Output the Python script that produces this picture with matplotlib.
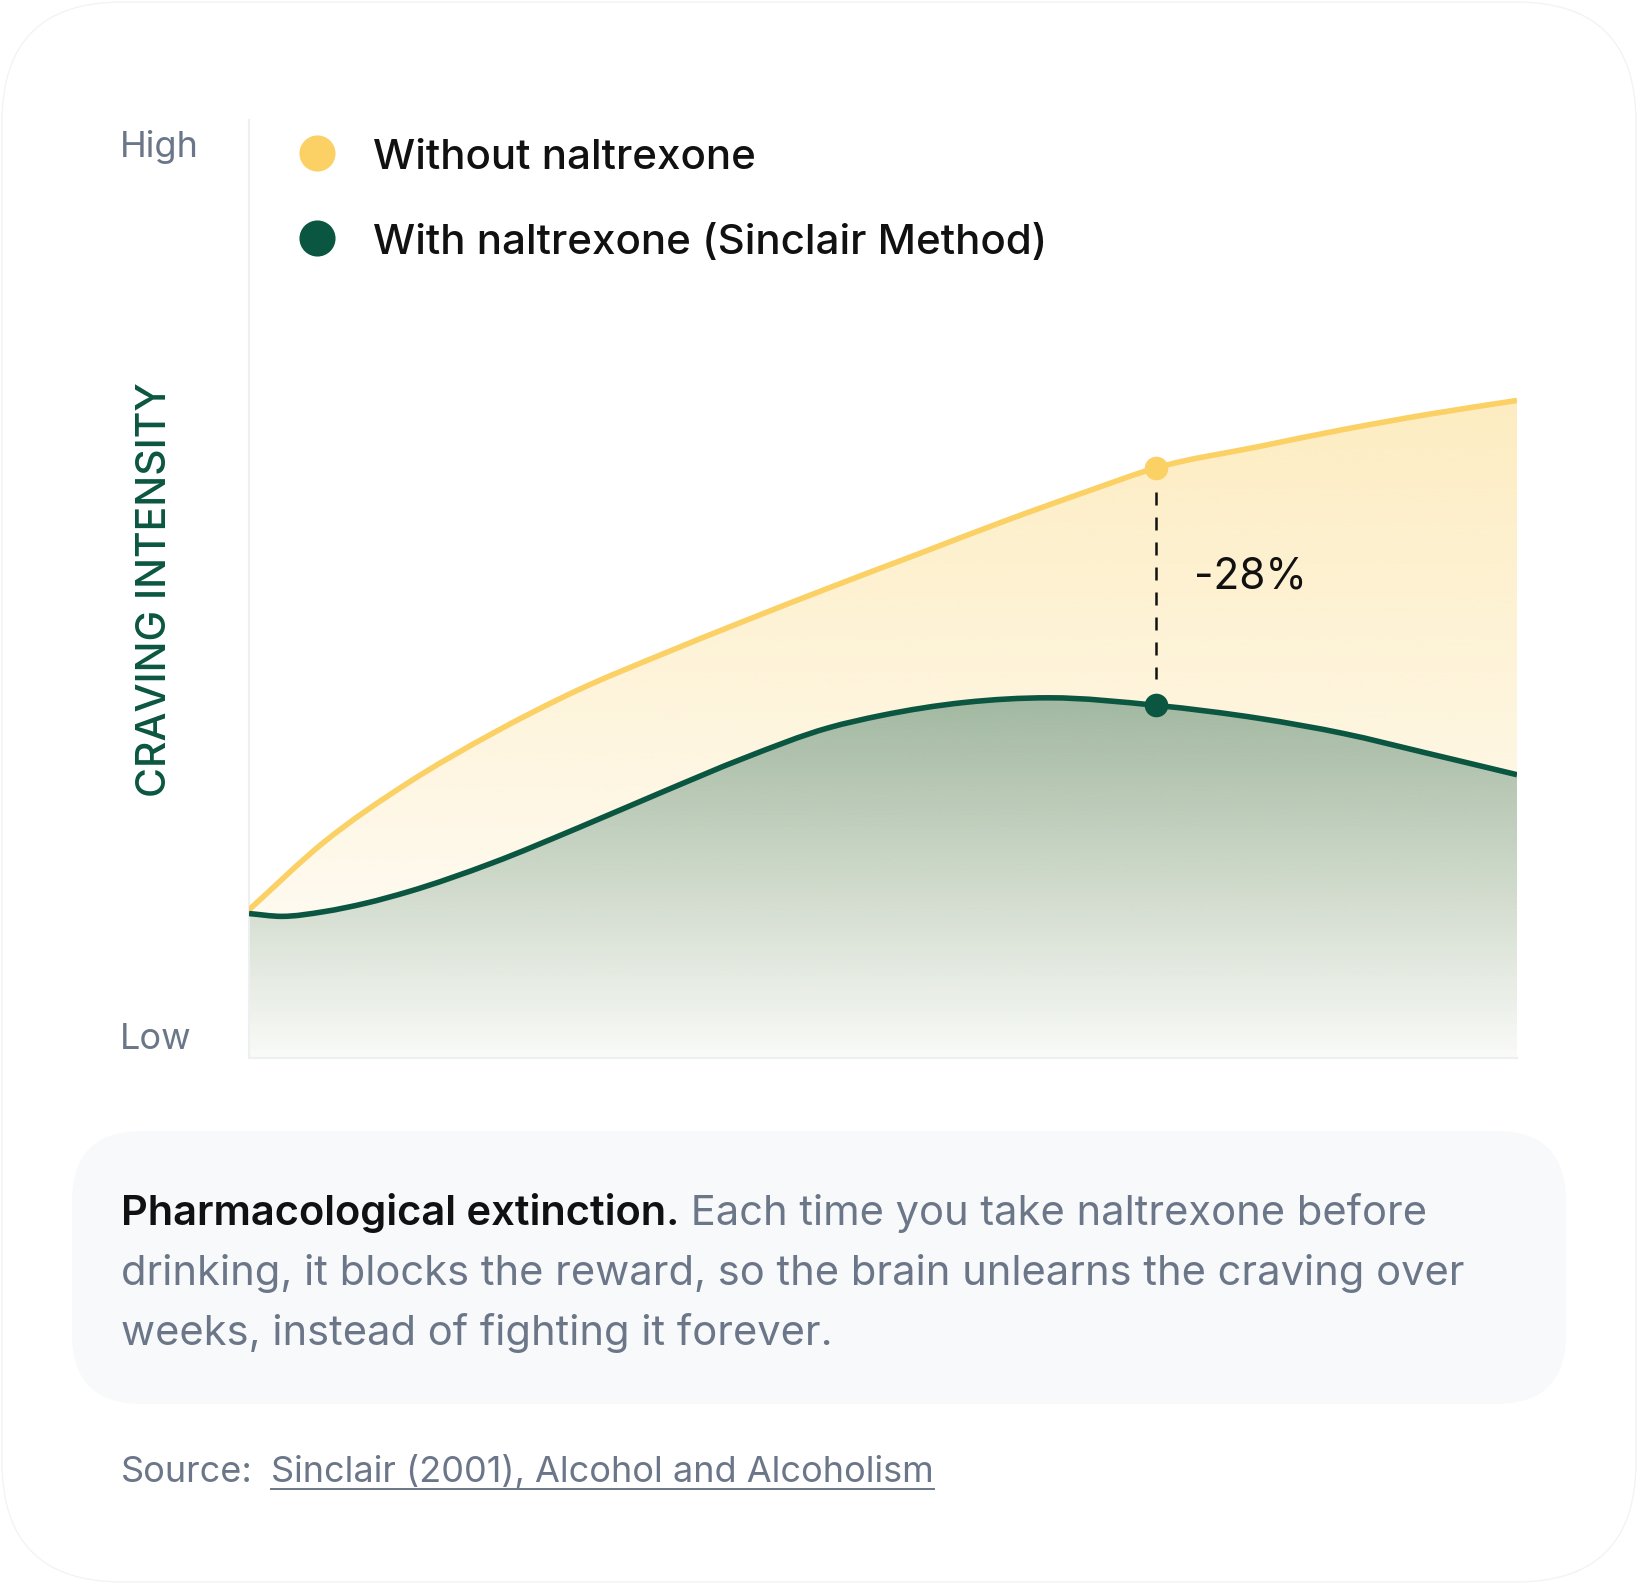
import matplotlib
matplotlib.use("Agg")
from matplotlib import pyplot as plt
from matplotlib import transforms as mtransforms
from matplotlib import colors as mcolors
from matplotlib.patches import FancyBboxPatch, PathPatch
from matplotlib.path import Path
from matplotlib.lines import Line2D
import numpy as np

W, H = 1638, 1584

# data (x = time 0..100, y = intensity 0..100)
weeks_without = [0, 5.9, 12.5, 19.2, 25.9, 32.5, 39.1, 45.7, 53.1, 59.7, 66.3, 71.5,
                 79.7, 86.3, 92.9, 100]
without_naltrexone = [15.8, 23.0, 29.3, 34.6, 39.2, 43.0, 46.6, 50.1, 53.9, 57.3, 60.5, 62.9,
                      65.2, 67.0, 68.6, 70.1]
weeks_with = [0, 2.6, 5.9, 9.2, 12.5, 19.2, 25.9, 32.5, 39.1, 45.7, 49.8, 56.4, 63.1, 71.5,
              79.7, 86.3, 92.9, 100]
with_naltrexone = [15.4, 15.1, 15.6, 16.5, 17.7, 20.8, 24.5, 28.3, 32.0, 35.2, 36.5, 37.9,
                   38.4, 37.6, 36.2, 34.6, 32.5, 30.2]
marker_week = 71.5
series_labels = ["Without naltrexone", "With naltrexone (Sinclair Method)"]
y_labels = ["High", "Low"]
axis_title = "CRAVING INTENSITY"
reduction_label = "-28%"
note_bold = "Pharmacological extinction."
note_lines = [" Each time you take naltrexone before",
              "drinking, it blocks the reward, so the brain unlearns the craving over",
              "weeks, instead of fighting it forever."]
source_prefix = "Source:"
source_link = "Sinclair (2001), Alcohol and Alcoholism"

# colours
yellow = "#FBD165"
green = "#0B5641"
gray = "#6B7688"
ink = "#111111"
font = "Inter"

plt.rcParams['font.family'] = [font, 'DejaVu Sans']

fig = plt.figure(figsize=(W / 100, H / 100), dpi=100, facecolor="white")
# pixel coordinates, y going down like the picture
px = mtransforms.Affine2D().scale(1, -1).translate(0, H).scale(1 / W, 1 / H) + fig.transFigure

# card background
card = FancyBboxPatch((2, 2), W - 4, H - 4, boxstyle="round,pad=0,rounding_size=120",
                      facecolor="white", edgecolor="#F3F3F3", lw=1, transform=px, zorder=-2)
fig.patches.append(card)

# note box
note_box = FancyBboxPatch((72, 1131), 1494, 273, boxstyle="round,pad=0,rounding_size=70",
                          facecolor="#F8F9FB", edgecolor="none", transform=px, zorder=-1)
fig.patches.append(note_box)

ax = fig.add_axes([249 / W, (H - 1058) / H, (1517 - 249) / W, (1058 - 120) / H])
ax.set_facecolor("none")


def curve_segments(xs, ys):
    # cubic segments through the points, tangents taken from neighbouring points
    xs = np.asarray(xs, float)
    ys = np.asarray(ys, float)
    m = np.gradient(ys, xs)
    verts = [(xs[0], ys[0])]
    codes = []
    for k in range(len(xs) - 1):
        dx = xs[k + 1] - xs[k]
        verts += [(xs[k] + dx / 3, ys[k] + m[k] * dx / 3),
                  (xs[k + 1] - dx / 3, ys[k + 1] - m[k + 1] * dx / 3),
                  (xs[k + 1], ys[k + 1])]
        codes += [Path.CURVE4] * 3
    return verts, codes


def line_path(xs, ys):
    v, c = curve_segments(xs, ys)
    return Path(v, [Path.MOVETO] + c)


def area_path(xs, upper):
    v1, c1 = curve_segments(xs, upper)
    verts = v1 + [(xs[-1], 0), (xs[0], 0), v1[0]]
    codes = [Path.MOVETO] + c1 + [Path.LINETO, Path.LINETO, Path.CLOSEPOLY]
    return Path(verts, codes)


def gradient_fill(ax, path, color, a_top, a_bottom, y_hi, z):
    rgb = mcolors.to_rgb(color)
    n = 256
    img = np.zeros((n, 1, 4))
    img[:, 0, :3] = rgb
    img[:, 0, 3] = np.linspace(a_top, a_bottom, n)
    im = ax.imshow(img, extent=[0, 100, 0, y_hi], origin="upper", aspect="auto",
                   interpolation="bicubic", zorder=z)
    patch = PathPatch(path, facecolor="none", edgecolor="none")
    ax.add_patch(patch)
    im.set_clip_path(patch)


xa = np.array(weeks_without)
ya = np.array(without_naltrexone)
xb = np.array(weeks_with)
yb = np.array(with_naltrexone)

gradient_fill(ax, area_path(xa, ya), yellow, 0.40, 0.02, ya.max(), 1)
gradient_fill(ax, area_path(xb, yb), green, 0.38, 0.02, yb.max(), 1.5)

for xs, ys, col in [(xa, ya, yellow), (xb, yb, green)]:
    ax.add_patch(PathPatch(line_path(xs, ys), facecolor="none", edgecolor=col, lw=4.0,
                           capstyle="butt", joinstyle="round", zorder=3))

yy = without_naltrexone[weeks_without.index(marker_week)]
yg = with_naltrexone[weeks_with.index(marker_week)]
ax.plot([marker_week, marker_week], [yy - 2.6, yg + 2.8], color=ink, lw=1.8,
        dashes=(5.2, 4.8), zorder=2)
ax.plot([marker_week], [yy], "o", ms=17, color=yellow, mec="none", zorder=4)
ax.plot([marker_week], [yg], "o", ms=17, color=green, mec="none", zorder=4)
ax.annotate(reduction_label, xy=(marker_week, (yy + yg) / 2), xytext=(38, 10),
            textcoords="offset pixels", ha="left", va="center", fontsize=30.5, color=ink)

ax.set_xlim(0, 100)
ax.set_ylim(0, 100)
ax.set_xticks([])
ax.set_yticks([])
for side in ("top", "right"):
    ax.spines[side].set_visible(False)
for side in ("left", "bottom"):
    ax.spines[side].set_color("#EDF0F0")
    ax.spines[side].set_linewidth(1.5)

# legend
for (cy, label, col) in [(153, series_labels[0], yellow), (238, series_labels[1], green)]:
    fig.add_artist(Line2D([317], [cy], marker="o", ms=26, color=col, mec="none",
                          transform=px))
    fig.text(373, cy + 16, label, transform=px, fontsize=30.3, fontweight="medium",
             color=ink, va="baseline", ha="left")

# y labels
fig.text(120, 157, y_labels[0], transform=px, fontsize=26, color=gray, va="baseline")
fig.text(120, 1049, y_labels[1], transform=px, fontsize=26, color=gray, va="baseline")
fig.text(155, 590, axis_title, transform=px, fontsize=29.5, color=green, rotation=90,
         ha="center", va="center", fontweight="medium")

# note text
t_bold = fig.text(121, 1225, note_bold, transform=px, fontsize=30, fontweight="semibold",
                  color=ink, va="baseline")
fig.canvas.draw()
renderer = fig.canvas.get_renderer()
bb = t_bold.get_window_extent(renderer)
fig.text(bb.x1 / W, (H - 1225) / H, note_lines[0], fontsize=30, color=gray, va="baseline")
fig.text(121, 1285, note_lines[1], transform=px, fontsize=30, color=gray, va="baseline")
fig.text(121, 1345, note_lines[2], transform=px, fontsize=30, color=gray, va="baseline")

# source
fig.text(121, 1482, source_prefix, transform=px, fontsize=26, color=gray, va="baseline")
t_link = fig.text(271, 1482, source_link, transform=px, fontsize=26, color=gray, va="baseline")
lb = t_link.get_window_extent(renderer)
fig.add_artist(Line2D([lb.x0, lb.x1], [H - 1489, H - 1489], color=gray, lw=1.4,
                      transform=None))

fig.savefig("out.png", dpi=100, facecolor="white")
